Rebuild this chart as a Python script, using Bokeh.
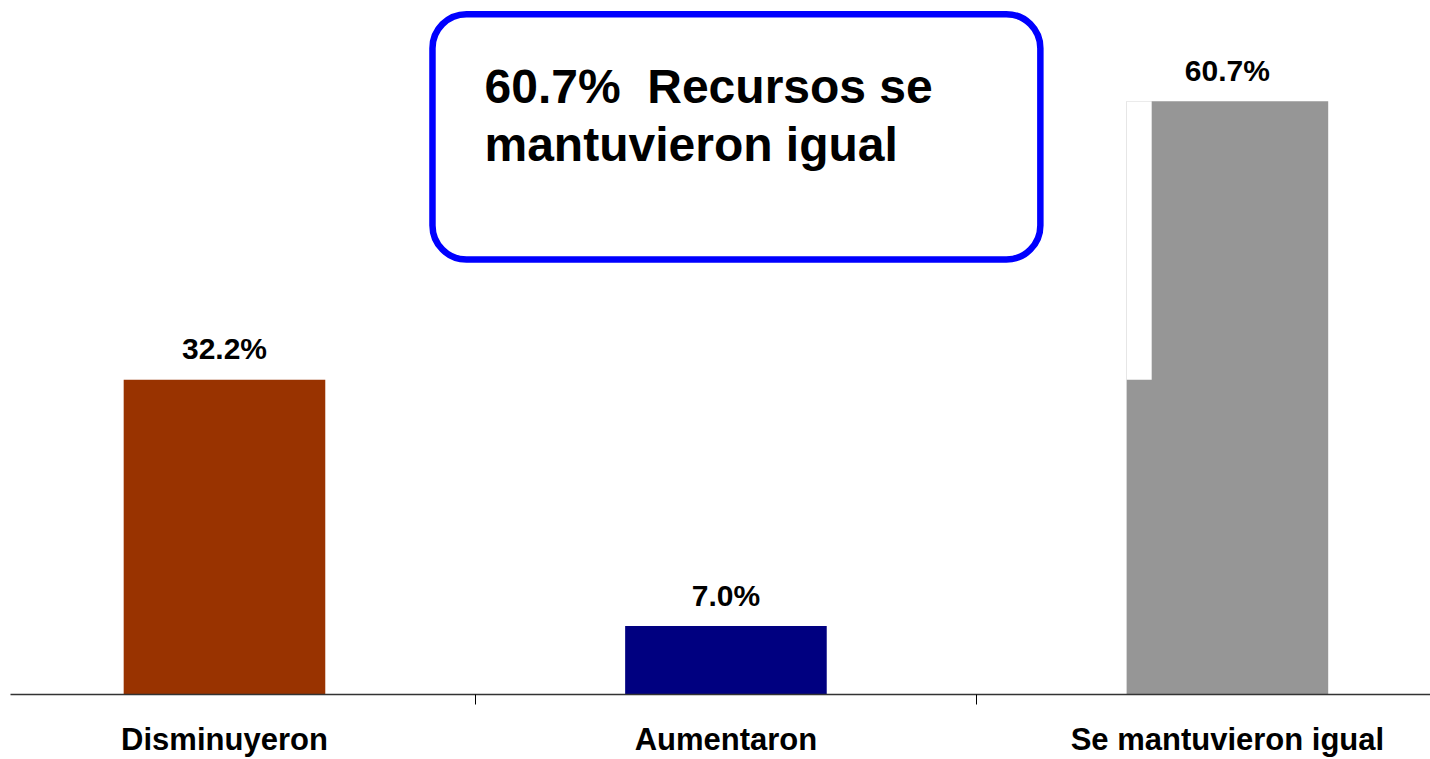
from bokeh.plotting import figure
from bokeh.models import Range1d, FixedTicker, BoxAnnotation, Label, ColumnDataSource
from bokeh.core.properties import value
from bokeh.embed import file_html
from bokeh.resources import INLINE

categories = ["Disminuyeron", "Aumentaron", "Se mantuvieron igual"]
values = [32.2, 7.0, 60.7]
value_labels = ["32.2%", "7.0%", "60.7%"]
colors = ["#993300", "#000080", "#969696"]
box_lines = ["60.7%\u00a0 Recursos se", "mantuvieron igual"]

FONT = "Liberation Sans"
xs = list(range(len(categories)))
BAR_W = 0.402

p = figure(width=1430, height=759, output_backend="svg", toolbar_location=None,
           x_range=Range1d(-0.4267, 2.405), y_range=Range1d(0, 71.0),
           y_axis_location=None, min_border_left=10, min_border_right=0,
           min_border_top=0, min_border_bottom=0)
p.outline_line_color = None
p.xgrid.visible = False
p.ygrid.visible = False
p.background_fill_color = "white"
p.border_fill_color = "white"

src = ColumnDataSource(dict(x=xs, top=values, color=colors, lab=value_labels))
p.vbar(x="x", top="top", width=BAR_W, color="color", source=src, line_color=None)

# white notch on the third bar (as in the original picture)
p.quad(left=[xs[2] - BAR_W / 2], right=[xs[2] - BAR_W / 2 + 0.05],
       bottom=[values[0]], top=[values[2]], fill_color="white", line_color=None)

p.text(x="x", y="top", text="lab", source=src, text_align="center",
       text_baseline="alphabetic", y_offset=-31, text_font=value(FONT),
       text_font_style="bold", text_font_size="30px", text_color="black")

ax = p.xaxis[0]
ax.ticker = FixedTicker(ticks=xs, minor_ticks=[0.5, 1.5])
ax.major_label_overrides = {i: c for i, c in zip(xs, categories)}
ax.major_tick_out = 0
ax.major_tick_in = 0
ax.minor_tick_out = 10
ax.minor_tick_in = 0
ax.minor_tick_line_color = "black"
ax.axis_line_color = "#333333"
ax.axis_line_width = 1.5
ax.major_label_standoff = 17
ax.major_label_text_font = FONT
ax.major_label_text_font_style = "bold"
ax.major_label_text_font_size = "31px"
ax.major_label_text_color = "black"

box = BoxAnnotation(left=0.4148, right=1.627, bottom=44.5, top=69.6,
                    fill_color="white", fill_alpha=1.0, line_color="#0000FF",
                    line_width=6.5, line_alpha=1.0, border_radius=34)
p.add_layout(box)

for txt, yv in zip(box_lines, [62.21, 56.28]):
    p.add_layout(Label(x=0.5185, y=yv, text=txt, text_font=FONT,
                       text_font_style="bold", text_font_size="48px",
                       text_color="black", text_baseline="alphabetic",
                       text_align="left"))

open("out.html", "w").write(file_html(p, INLINE))
